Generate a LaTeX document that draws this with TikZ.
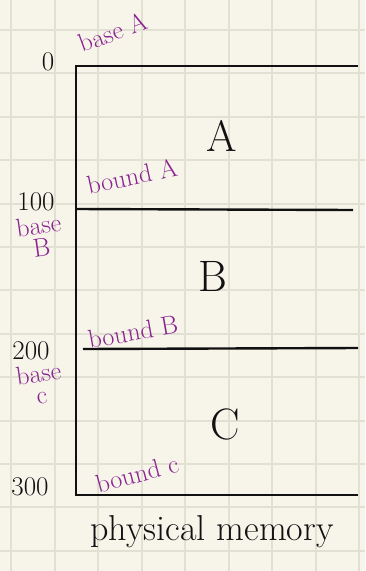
\documentclass[tikz,border=0pt]{standalone}
\usepackage{fontspec}
\usetikzlibrary{positioning}

\definecolor{paper}{HTML}{F7F5EA}
\definecolor{gridline}{HTML}{E2E0D2}
\definecolor{inkblack}{HTML}{111111}
\definecolor{inkpurple}{HTML}{8A2491}

\tikzset{
  addr/.style={inkblack,font=\fontsize{27}{27}\selectfont,inner sep=0pt},
  regionname/.style={inkblack,font=\fontsize{44}{44}\selectfont,inner sep=0pt},
  note/.style={inkpurple,font=\fontsize{26}{22}\selectfont,inner sep=0pt,align=center},
  memline/.style={inkblack,line width=2.4pt},
}

\begin{document}
\begin{tikzpicture}[x=1pt,y=-1pt]
\fill[paper] (0,0) rectangle (365,571);
\useasboundingbox (0,0) rectangle (365,571);

% squared paper
\foreach \col in {0,...,8} {
  \draw[gridline,line width=2pt] ({11+43.5*\col},0) -- ({11+43.5*\col},571);
}
\foreach \row in {0,...,12} {
  \draw[gridline,line width=2pt] (0,{30+43.4*\row}) -- (365,{30+43.4*\row});
}

% physical memory box
\coordinate (topleft) at (76,66);
\coordinate (topright) at (358,66);
\coordinate (botleft) at (76,495);
\coordinate (botright) at (358,495);
\coordinate (splitAL) at (76,209);
\coordinate (splitAR) at (353,210);
\coordinate (splitBL) at (83,349);
\coordinate (splitBR) at (358,348);

\draw[memline] (topright) -- (topleft) -- (botleft) -- (botright);
\draw[memline] (splitAL) -- (splitAR);
\draw[memline] (splitBL) -- (splitBR);

% addresses
\node[addr] (addrzero) at (48,62) {0};
\node[addr] (addrhundred) at (36,202) {100};
\node[addr] (addrtwohundred) at (31,351) {200};
\node[addr] (addrthreehundred) at (30,487) {300};

% regions
\node[regionname] (regionA) at (222,136) {A};
\node[regionname] (regionB) at (213,276) {B};
\node[regionname] (regionC) at (225,424) {C};

% purple notes
\node[note,rotate=20] (baseA) at (113,32) {base A};
\node[note,rotate=12] (boundA) at (132,176) {bound A};
\node[note,rotate=8] (baseB) at (40,236) {base\\B};
\node[note,rotate=10] (boundB) at (133,332) {bound B};
\node[note,rotate=8] (baseC) at (40,384) {base\\c};
\node[note,rotate=15] (boundC) at (137,474) {bound c};

\node[inkblack,font=\fontsize{36}{36}\selectfont,inner sep=0pt,anchor=base] (memlabel) at (212,540) {physical memory};
\end{tikzpicture}
\end{document}
